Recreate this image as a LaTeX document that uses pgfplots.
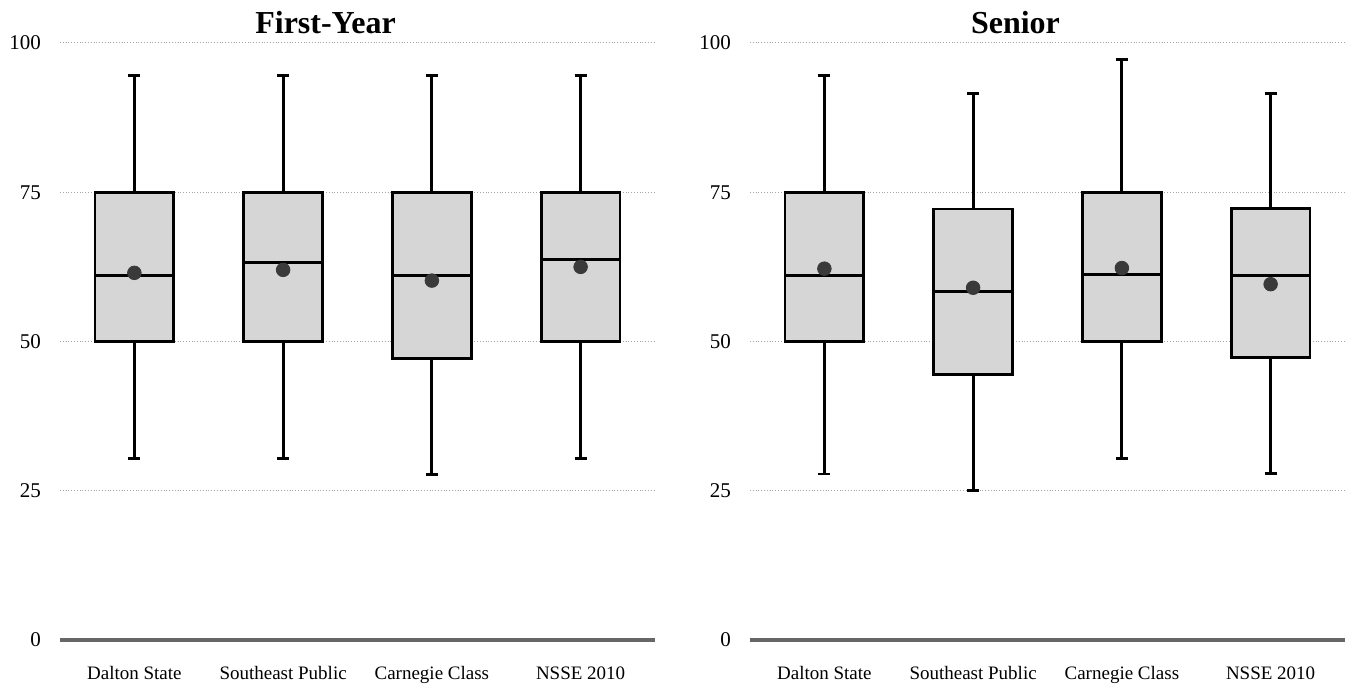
\documentclass[border=0pt]{standalone}
\usepackage{fontspec}
\setmainfont{Liberation Serif}
\usepackage{pgfplots}
\pgfplotsset{compat=1.18}
\usepgfplotslibrary{statistics}

\definecolor{boxfill}{HTML}{D6D6D6}
\definecolor{dotcol}{HTML}{3A3A3A}
\definecolor{baseln}{HTML}{666666}

\pgfplotsset{
  nsse/.style={
    scale only axis, width=297.5pt, height=298.5pt,
    xmin=0.5, xmax=4.5, ymin=0, ymax=100,
    xtick={1,2,3,4},
    xticklabels={Dalton State, Southeast Public, Carnegie Class, NSSE 2010},
    ytick={0,25,50,75,100},
    ymajorgrids, grid style={densely dotted, gray!70, line width=0.5pt},
    major tick length=0,
    axis x line*=bottom, axis y line*=left,
    y axis line style={draw=none},
    x axis line style={-, line width=2pt, baseln},
    /pgf/number format/assume math mode=true,
    yticklabel style={font=\fontsize{10.5}{12}\selectfont, xshift=-6pt},
    xticklabel style={font=\fontsize{9.5}{11}\selectfont, text height=1.6ex, text depth=0.3ex, yshift=-9pt},
    title style={font=\bfseries\fontsize{16}{19}\selectfont, at={(0.5,1)}, anchor=base, yshift=-1.5pt, xshift=-16pt},
    boxplot/draw direction=y,
    boxplot/box extend=0.53,
    boxplot/whisker extend=0.08,
    clip=false,
  },
  bx/.style={draw=black, line width=1.4pt, fill=boxfill, solid},
  mn/.style={only marks, mark=*, mark size=3.4pt, dotcol},
}

\begin{document}
\begin{tikzpicture}
\path[use as bounding box] (0,0) rectangle (678pt,343pt);

\begin{axis}[nsse, at={(30pt,23pt)}, anchor=south west, title={First-Year}]
  \addplot[bx, boxplot prepared={draw position=1, lower whisker=30.4, lower quartile=50, median=61.1, upper quartile=75, upper whisker=94.5}] coordinates {};
  \addplot[bx, boxplot prepared={draw position=2, lower whisker=30.4, lower quartile=50, median=63.2, upper quartile=75, upper whisker=94.5}] coordinates {};
  \addplot[bx, boxplot prepared={draw position=3, lower whisker=27.7, lower quartile=47.1, median=61.0, upper quartile=75, upper whisker=94.5}] coordinates {};
  \addplot[bx, boxplot prepared={draw position=4, lower whisker=30.4, lower quartile=50, median=63.8, upper quartile=75, upper whisker=94.5}] coordinates {};
  \addplot[mn] coordinates {(1,61.5) (2,62.0) (3,60.2) (4,62.5)};
\end{axis}

\begin{axis}[nsse, at={(375pt,23pt)}, anchor=south west, title={Senior}]
  \addplot[bx, boxplot prepared={draw position=1, lower whisker=27.8, lower quartile=50, median=61.1, upper quartile=75, upper whisker=94.5}] coordinates {};
  \addplot[bx, boxplot prepared={draw position=2, lower whisker=25.0, lower quartile=44.5, median=58.4, upper quartile=72.2, upper whisker=91.6}] coordinates {};
  \addplot[bx, boxplot prepared={draw position=3, lower whisker=30.4, lower quartile=50, median=61.2, upper quartile=75, upper whisker=97.2}] coordinates {};
  \addplot[bx, boxplot prepared={draw position=4, lower whisker=27.9, lower quartile=47.3, median=61.1, upper quartile=72.3, upper whisker=91.6}] coordinates {};
  \addplot[mn] coordinates {(1,62.2) (2,59.0) (3,62.3) (4,59.6)};
\end{axis}
\end{tikzpicture}
\end{document}
